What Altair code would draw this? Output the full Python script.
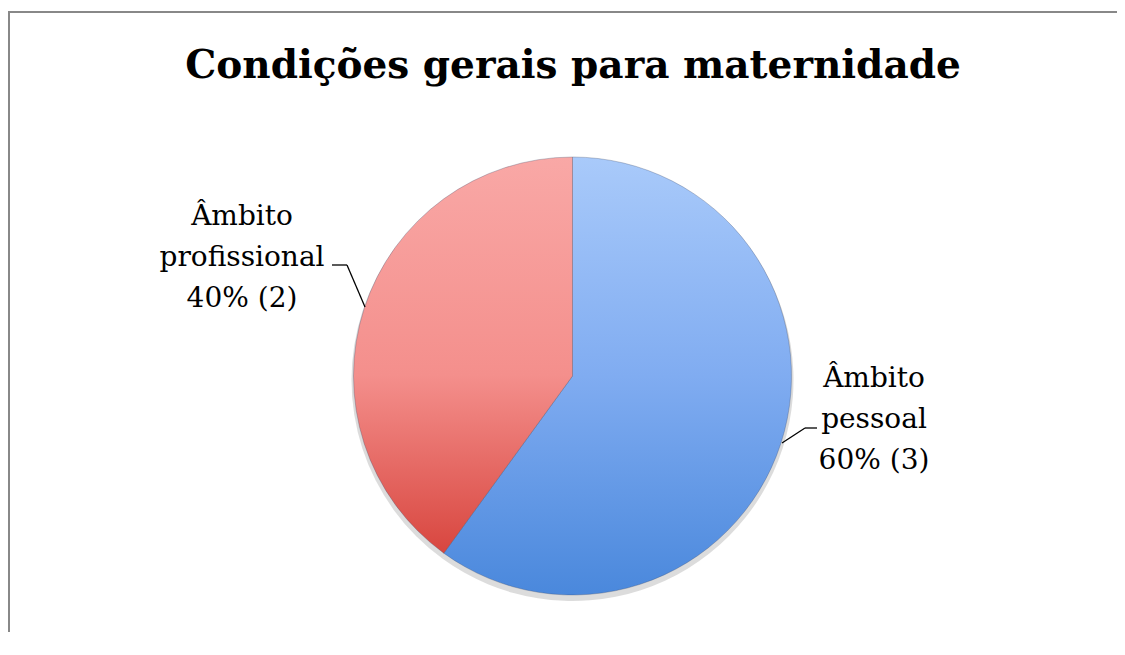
import altair as alt
import pandas as pd

# ---- data ----
titulo = "Condições gerais para maternidade"
categorias = ["Âmbito pessoal", "Âmbito profissional"]
valores = [3, 2]
linhas_rotulo = [["Âmbito", "pessoal"], ["Âmbito", "profissional"]]

total = sum(valores)
rotulos = [
    "\n".join(l) + f"\n{round(100 * v / total)}% ({v})"
    for l, v in zip(linhas_rotulo, valores)
]
df = pd.DataFrame({"categoria": categorias, "valor": valores, "rotulo": rotulos})

# ---- layout constants (view coordinates) ----
W, H = 1109, 620
CX, CY, R = 564.5, 364, 219
FONT = "DejaVu Serif"

azul = alt.Gradient(
    gradient="linear",
    stops=[alt.GradientStop(color="#a9cafa", offset=0),
           alt.GradientStop(color="#80acf1", offset=0.5),
           alt.GradientStop(color="#4a88dc", offset=1)],
    x1=0, y1=0, x2=0, y2=1,
)
vermelho = alt.Gradient(
    gradient="linear",
    stops=[alt.GradientStop(color="#f9a8a6", offset=0),
           alt.GradientStop(color="#f48f8c", offset=0.55),
           alt.GradientStop(color="#d8463f", offset=1)],
    x1=0, y1=0, x2=0, y2=1,
)

base = alt.Chart(df)

sombra = base.mark_arc(outerRadius=R + 2, fill="#9a9a9a", opacity=0.35).encode(
    theta=alt.Theta("valor:Q", stack=True),
    order=alt.Order("categoria:N"),
    x=alt.value(CX), y=alt.value(CY + 4),
)

pizza = base.mark_arc(outerRadius=R, stroke="#3a4a66", strokeWidth=1, strokeOpacity=0.3).encode(
    theta=alt.Theta("valor:Q", stack=True),
    order=alt.Order("categoria:N"),
    fill=alt.condition(alt.datum.categoria == categorias[0], alt.value(azul), alt.value(vermelho)),
    x=alt.value(CX), y=alt.value(CY),
    tooltip=["categoria:N", "valor:Q"],
)

def rotulo_layer(cat, x, y):
    return base.transform_filter(alt.datum.categoria == cat).mark_text(
        font=FONT, fontSize=28, lineBreak="\n", lineHeight=41,
        align="center", baseline="alphabetic", color="#000000",
    ).encode(text="rotulo:N", x=alt.value(x), y=alt.value(y))

rot_dir = rotulo_layer(categorias[0], 866, 375)
rot_esq = rotulo_layer(categorias[1], 234, 213)

um = pd.DataFrame({"k": [0]})

def seg(x, y, x2, y2, color="#000000", w=1.3):
    return alt.Chart(um).mark_rule(color=color, strokeWidth=w).encode(
        x=alt.value(x), y=alt.value(y), x2=alt.value(x2), y2=alt.value(y2)
    )

linhas = [
    seg(324, 253, 339, 253), seg(339, 253, 357, 295),
    seg(774, 431, 797, 416), seg(797, 416, 809, 416),
]

borda = [
    seg(0, 0, W, 0, color="#888888", w=2),
    seg(1, 0, 1, H, color="#888888", w=2),
]

titulo_layer = alt.Chart(um).mark_text(
    font=FONT, fontSize=39, fontWeight="bold", align="center", baseline="alphabetic", color="#000000"
).encode(text=alt.value(titulo), x=alt.value(565), y=alt.value(66))

chart = alt.layer(
    *borda, titulo_layer, sombra, pizza, rot_dir, rot_esq, *linhas
).properties(
    width=W, height=H,
    padding={"left": 0, "top": 4, "right": 0, "bottom": 0},
    autosize=alt.AutoSizeParams(type="none"),
).configure_view(stroke=None)

chart.save("out.html", embed_options={"renderer": "svg", "actions": False})
